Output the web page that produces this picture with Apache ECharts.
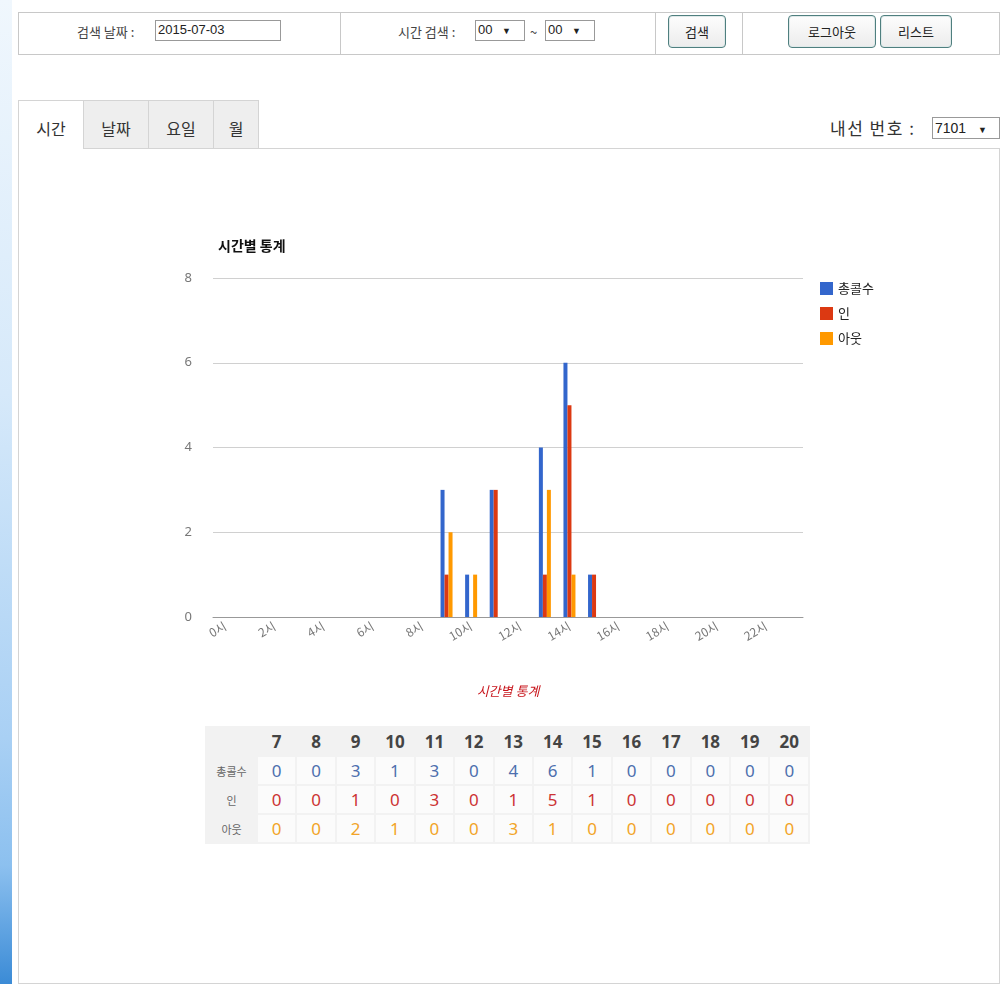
<!DOCTYPE html>
<html>
<head>
<meta charset="utf-8">
<script src="https://cdn.jsdelivr.net/npm/echarts@6/dist/echarts.min.js"></script>
<style>
  html,body{margin:0;padding:0;background:#fff;}
  body{width:1004px;height:984px;position:relative;overflow:hidden;font-family:"Noto Sans CJK KR","Noto Sans",sans-serif;color:#333;}
  .strip{position:absolute;left:0;top:0;width:12px;height:984px;background:linear-gradient(to bottom,#f0f7fd 0%,#d6e9fa 40%,#a9d0f4 75%,#8cc0ef 88%,#3b8bd6 100%);}
  .box{position:absolute;border:1px solid #c8c8c8;box-sizing:border-box;}
  .txt{position:absolute;white-space:nowrap;}
  .inp{position:absolute;border:1px solid #999;box-sizing:border-box;background:#fff;font-size:13px;line-height:18px;padding-left:2px;font-family:"Liberation Sans",Arial,sans-serif;color:#222;}
  .btn{position:absolute;border:1px solid #4f7f7f;border-radius:4px;box-sizing:border-box;background:linear-gradient(#fdfdfd,#ececec);font-size:13px;text-align:center;color:#222;box-shadow:inset 0 0 0 1px #dfe9e9;}
  .tab{position:absolute;top:100px;height:48px;box-sizing:border-box;border:1px solid #d4d4d4;border-bottom:none;background:#eeeeee;font-size:16px;line-height:54px;text-align:center;color:#333;}
  .tab.active{background:#fff;height:49px;z-index:2;}
  table.stat{position:absolute;left:205px;top:726px;width:605px;table-layout:fixed;border-collapse:separate;border-spacing:2px;background:#f2f2f2;font-family:"Noto Sans","Noto Sans CJK KR",sans-serif;}
  table.stat td{text-align:center;height:27px;padding:0;}
  table.stat tr.head td{font-weight:bold;font-size:17px;color:#444;}
  table.stat td.lab{font-size:11px;color:#666;font-family:"Noto Sans CJK KR",sans-serif;}
  table.stat tr.v td.num{background:#fbfbfb;font-size:17px;}
</style>
</head>
<body>
<div class="strip"></div>

<!-- top search bar -->
<div class="box" style="left:18px;top:12px;width:982px;height:43px;"></div>
<div style="position:absolute;left:340px;top:12px;width:1px;height:43px;background:#c8c8c8"></div>
<div style="position:absolute;left:655px;top:12px;width:1px;height:43px;background:#c8c8c8"></div>
<div style="position:absolute;left:742px;top:12px;width:1px;height:43px;background:#c8c8c8"></div>
<div class="txt" style="left:77px;top:22px;font-size:13px;color:#444;">검색 날짜 :</div>
<div class="inp" style="left:155px;top:20px;width:126px;height:21px;">2015-07-03</div>
<div class="txt" style="left:398px;top:22px;font-size:13px;color:#444;">시간 검색 :</div>
<div class="inp" style="left:475px;top:20px;width:50px;height:21px;">00 <span style="font-size:9px;margin-left:6px">▼</span></div>
<div class="txt" style="left:530px;top:22px;font-size:13px;color:#444;">~</div>
<div class="inp" style="left:545px;top:20px;width:50px;height:21px;">00 <span style="font-size:9px;margin-left:6px">▼</span></div>
<div class="btn" style="left:668px;top:15px;width:58px;height:33px;line-height:31px;">검색</div>
<div class="btn" style="left:788px;top:15px;width:88px;height:33px;line-height:31px;">로그아웃</div>
<div class="btn" style="left:880px;top:15px;width:72px;height:33px;line-height:31px;">리스트</div>

<!-- tabs -->
<div class="tab active" style="left:18px;width:66px;">시간</div>
<div class="tab" style="left:83px;width:66px;">날짜</div>
<div class="tab" style="left:148px;width:66px;">요일</div>
<div class="tab" style="left:213px;width:46px;">월</div>
<div class="txt" style="left:830px;top:115px;font-size:17px;letter-spacing:1.5px;color:#333;">내선 번호 :</div>
<div class="inp" style="left:932px;top:117px;width:68px;height:22px;font-size:14px;line-height:20px;">7101 <span style="font-size:9px;margin-left:8px">▼</span></div>

<!-- panel -->
<div class="box" style="left:18px;top:148px;width:982px;height:836px;border-color:#d4d4d4;"></div>

<div id="chart" style="position:absolute;left:160px;top:225px;width:840px;height:490px;"></div>

<table class="stat" id="stat"></table>

<script>
// ---- data ----
var hours = ['0','1','2','3','4','5','6','7','8','9','10','11','12','13','14','15','16','17','18','19','20','21','22','23'];
var hourLabels = ['0시','1시','2시','3시','4시','5시','6시','7시','8시','9시','10시','11시','12시','13시','14시','15시','16시','17시','18시','19시','20시','21시','22시','23시'];
var seriesNames = ['총콜수','인','아웃'];
var totalCalls = [0,0,0,0,0,0,0,0,0,3,1,3,0,4,6,1,0,0,0,0,0,0,0,0];
var inCalls    = [0,0,0,0,0,0,0,0,0,1,0,3,0,1,5,1,0,0,0,0,0,0,0,0];
var outCalls   = [0,0,0,0,0,0,0,0,0,2,1,0,0,3,1,0,0,0,0,0,0,0,0,0];
var yTicks = [0,2,4,6,8];
var tableHours = ['7','8','9','10','11','12','13','14','15','16','17','18','19','20'];

var colors = ['#3366cc','#dc3912','#ff9900'];
var textColors = ['#4d6fae','#cc3333','#f2a428'];

var chart = echarts.init(document.getElementById('chart'), null, {renderer:'canvas'});
chart.setOption({
  animation:false,
  color:colors,
  title:{text:'시간별 통계',left:53,top:9,textStyle:{fontSize:14,fontWeight:'bold',color:'#111',fontFamily:'Noto Sans CJK KR'}},
  legend:{orient:'vertical',left:655,top:52,itemWidth:13,itemHeight:13,itemGap:12,icon:'rect',
          textStyle:{fontSize:13,color:'#222',fontFamily:'Noto Sans CJK KR'},data:seriesNames},
  grid:{left:53,top:53,width:590,height:339,containLabel:false},
  xAxis:{type:'category',data:hourLabels,boundaryGap:true,
         axisLine:{lineStyle:{color:'#999',width:1}},axisTick:{show:false},
         axisLabel:{interval:1,rotate:30,margin:8,fontSize:12,color:'#777',fontFamily:'Noto Sans CJK KR'},
         name:'시간별 통계',nameLocation:'middle',nameGap:68,
         nameTextStyle:{color:'#c8161d',fontStyle:'italic',fontSize:13,fontFamily:'Noto Sans CJK KR'}},
  yAxis:{type:'value',min:yTicks[0],max:yTicks[yTicks.length-1],interval:2,
         axisLine:{show:false},axisTick:{show:false},
         splitLine:{lineStyle:{color:'#d0d0d0'}},
         axisLabel:{margin:21,fontSize:13,color:'#777',fontFamily:'Noto Sans'}},
  series:[
    {name:seriesNames[0],type:'bar',data:totalCalls,barWidth:4,barGap:'0%'},
    {name:seriesNames[1],type:'bar',data:inCalls,barWidth:4,barGap:'0%'},
    {name:seriesNames[2],type:'bar',data:outCalls,barWidth:4,barGap:'0%'}
  ]
});

// ---- table built from the same arrays ----
var rows = [totalCalls,inCalls,outCalls];
var html = '<colgroup><col style="width:49px">';
tableHours.forEach(function(){ html += '<col>'; });
html += '</colgroup><tr class="head"><td class="lab"></td>';
tableHours.forEach(function(h){ html += '<td>'+h+'</td>'; });
html += '</tr>';
rows.forEach(function(r,i){
  html += '<tr class="v"><td class="lab">'+seriesNames[i]+'</td>';
  tableHours.forEach(function(h){
    var idx = hours.indexOf(h);
    html += '<td class="num" style="color:'+textColors[i]+'">'+r[idx]+'</td>';
  });
  html += '</tr>';
});
document.getElementById('stat').innerHTML = html;
</script>
</body>
</html>
